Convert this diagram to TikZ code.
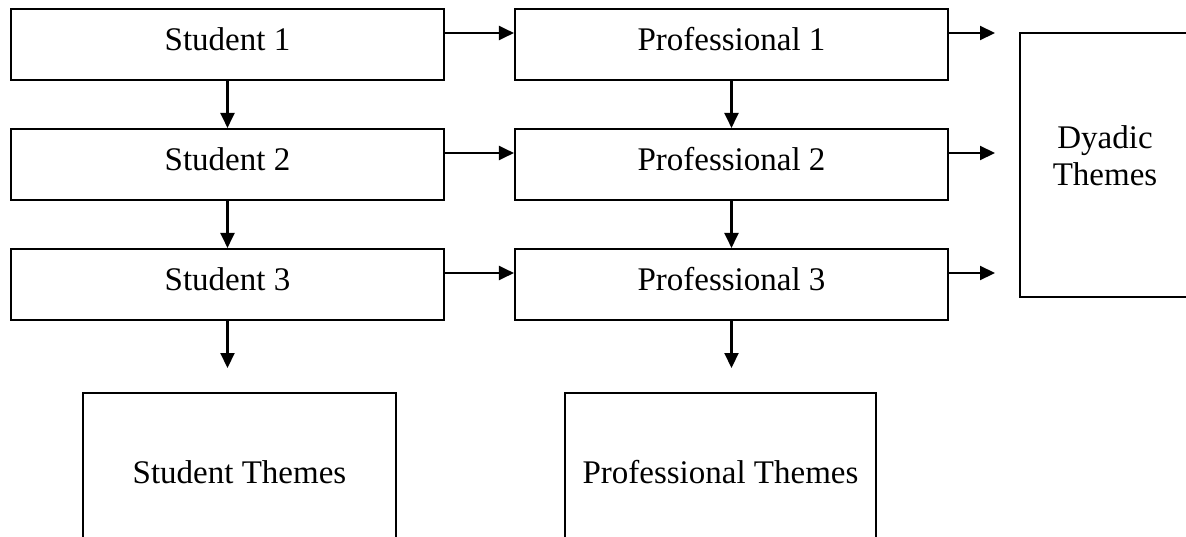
\documentclass[tikz,border=0pt]{standalone}
\usepackage{fontspec}
\setmainfont{Liberation Serif}
\usetikzlibrary{arrows.meta}
\begin{document}
\begin{tikzpicture}[x=1pt,y=-1pt,
  box/.style={draw,line width=2.1pt,inner sep=0pt,font=\fontsize{33}{37}\selectfont},
  rowbox/.style={box,minimum width=433pt,minimum height=71pt,text height=23pt,text depth=11pt},
  conn/.style={line width=2.1pt,-{Triangle[length=15pt,width=14pt]}}]
\useasboundingbox (0,0) rectangle (1186,536);
\fill[white] (0,0) rectangle (1186,536);
\clip (0,0) rectangle (1186,536);
% rows
\node[rowbox] (s1) at (227.5,44.5) {Student 1};
\node[rowbox] (s2) at (227.5,164.5) {Student 2};
\node[rowbox] (s3) at (227.5,284.5) {Student 3};
\node[rowbox] (p1) at (731.5,44.5) {Professional 1};
\node[rowbox] (p2) at (731.5,164.5) {Professional 2};
\node[rowbox] (p3) at (731.5,284.5) {Professional 3};
% theme boxes
\node[box,minimum width=170pt,minimum height=264pt] (dy) at (1105,165) {};
\node[font=\fontsize{33}{37}\selectfont,align=center,inner sep=0pt] (dyt) at ([yshift=9pt]dy.center) {Dyadic\\Themes};
\node[box,minimum width=313pt,minimum height=158pt] (st) at (239.5,472) {Student Themes};
\node[box,minimum width=311pt,minimum height=158pt] (pt) at (720.5,472) {Professional Themes};
% free ends
\coordinate (d1) at (995,33);
\coordinate (d2) at (995,153);
\coordinate (d3) at (995,273);
\coordinate (se) at (227.5,368);
\coordinate (pe) at (731.5,368);
% connectors
\draw[conn] (s1.south) -- (s2.north);
\draw[conn] (s2.south) -- (s3.north);
\draw[conn] (p1.south) -- (p2.north);
\draw[conn] (p2.south) -- (p3.north);
\draw[conn] ([yshift=11.5pt]s1.east) -- ([yshift=11.5pt]p1.west);
\draw[conn] ([yshift=11.5pt]s2.east) -- ([yshift=11.5pt]p2.west);
\draw[conn] ([yshift=11.5pt]s3.east) -- ([yshift=11.5pt]p3.west);
\draw[conn] ([yshift=11.5pt]p1.east) -- (d1);
\draw[conn] ([yshift=11.5pt]p2.east) -- (d2);
\draw[conn] ([yshift=11.5pt]p3.east) -- (d3);
\draw[conn] (s3.south) -- (se);
\draw[conn] (p3.south) -- (pe);
\end{tikzpicture}
\end{document}
